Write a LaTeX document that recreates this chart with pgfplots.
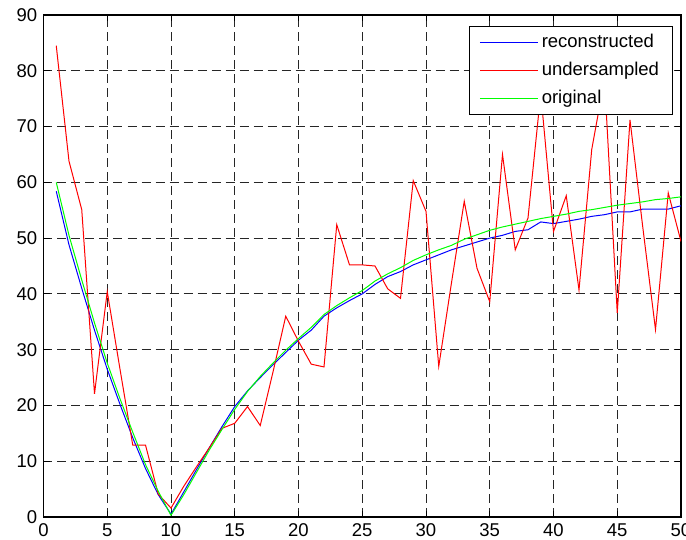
\documentclass[border=0pt]{standalone}
\usepackage{fontspec}
\setmainfont{Liberation Sans}
\usepackage{pgfplots}
\usepackage{pgfplotstable}
\pgfplotsset{compat=1.18}
\pgfplotstableread{
x b r g
1 58.4 84.5 60.0
2 48.8 63.8 50.5
3 41.0 55.1 42.5
4 33.5 22.1 34.8
5 26.5 40.4 27.6
6 20.2 26.5 21.2
7 14.2 12.9 15.2
8 8.7 12.9 9.4
9 4.0 4.1 4.6
10 0.5 1.6 0.3
11 4.5 5.5 4.0
12 8.5 9.0 8.0
13 12.4 12.4 12.0
14 16.2 15.9 15.7
15 19.8 16.8 19.3
16 22.6 19.8 22.5
17 25.0 16.4 25.2
18 27.3 26.0 27.6
19 29.5 36.0 29.9
20 31.7 31.5 32.0
21 33.5 27.4 34.0
22 36.0 26.9 36.3
23 37.5 52.4 37.9
24 38.8 45.2 39.3
25 40.0 45.2 40.6
26 41.7 45.0 42.3
27 43.1 40.9 43.6
28 44.0 39.2 44.7
29 45.2 60.3 46.0
30 46.1 54.8 47.0
31 47.0 27.0 47.9
32 47.9 42.0 48.7
33 48.6 56.6 49.8
34 49.3 44.6 50.6
35 50.0 38.6 51.4
36 50.5 65.0 52.0
37 51.2 47.9 52.5
38 51.5 53.6 53.0
39 52.9 76.0 53.5
40 52.6 51.2 53.9
41 53.0 57.6 54.3
42 53.4 40.7 54.8
43 53.9 65.9 55.1
44 54.2 78.5 55.5
45 54.7 36.6 55.9
46 54.7 71.2 56.2
47 55.2 52.0 56.5
48 55.2 33.6 56.9
49 55.2 58.1 57.1
50 55.8 49.4 57.4
}\data
\definecolor{mblue}{RGB}{0,0,255}
\definecolor{mred}{RGB}{255,0,0}
\definecolor{mgreen}{RGB}{0,255,0}
\begin{document}
\fontsize{18.5}{22}\selectfont
\begin{tikzpicture}
\begin{axis}[
  scale only axis, width=637.5pt, height=502pt,
  at={(0pt,0pt)}, anchor=south west,
  xmin=0, xmax=50, ymin=0, ymax=90,
  xtick={0,5,...,50}, ytick={0,10,...,90},
  tick align=inside, major tick length=6pt,
  tick style={black, line width=0.8pt},
  axis line style={black, line width=1.4pt},
  grid=major,
  grid style={black!85, dash pattern=on 9pt off 5pt, line width=0.9pt},
  ticklabel style={font=\fontsize{18.5}{22}\selectfont},
  /pgf/number format/assume math mode=true,
  legend cell align=left,
  legend image code/.code={\draw[#1] (0pt,0pt) -- (58pt,0pt);},
  legend style={at={(0.98745,0.97809)}, anchor=north east,
    draw=black, line width=1pt, fill=white,
    inner xsep=10pt, inner ysep=2pt,
    font=\fontsize{18.5}{22}\selectfont,
    nodes={inner xsep=3.5pt, inner ysep=6pt, text height=13pt, text depth=3pt}},
]
\addplot[mblue, line width=1pt] table[x=x, y=b] {\data};
\addlegendentry{reconstructed}
\addplot[mred, line width=1pt] table[x=x, y=r] {\data};
\addlegendentry{undersampled}
\addplot[mgreen, line width=1pt] table[x=x, y=g] {\data};
\addlegendentry{original}
\end{axis}
\pgfresetboundingbox
\path[use as bounding box] (-43.5pt,-23pt) rectangle (642.5pt,517pt);
\end{tikzpicture}
\end{document}
